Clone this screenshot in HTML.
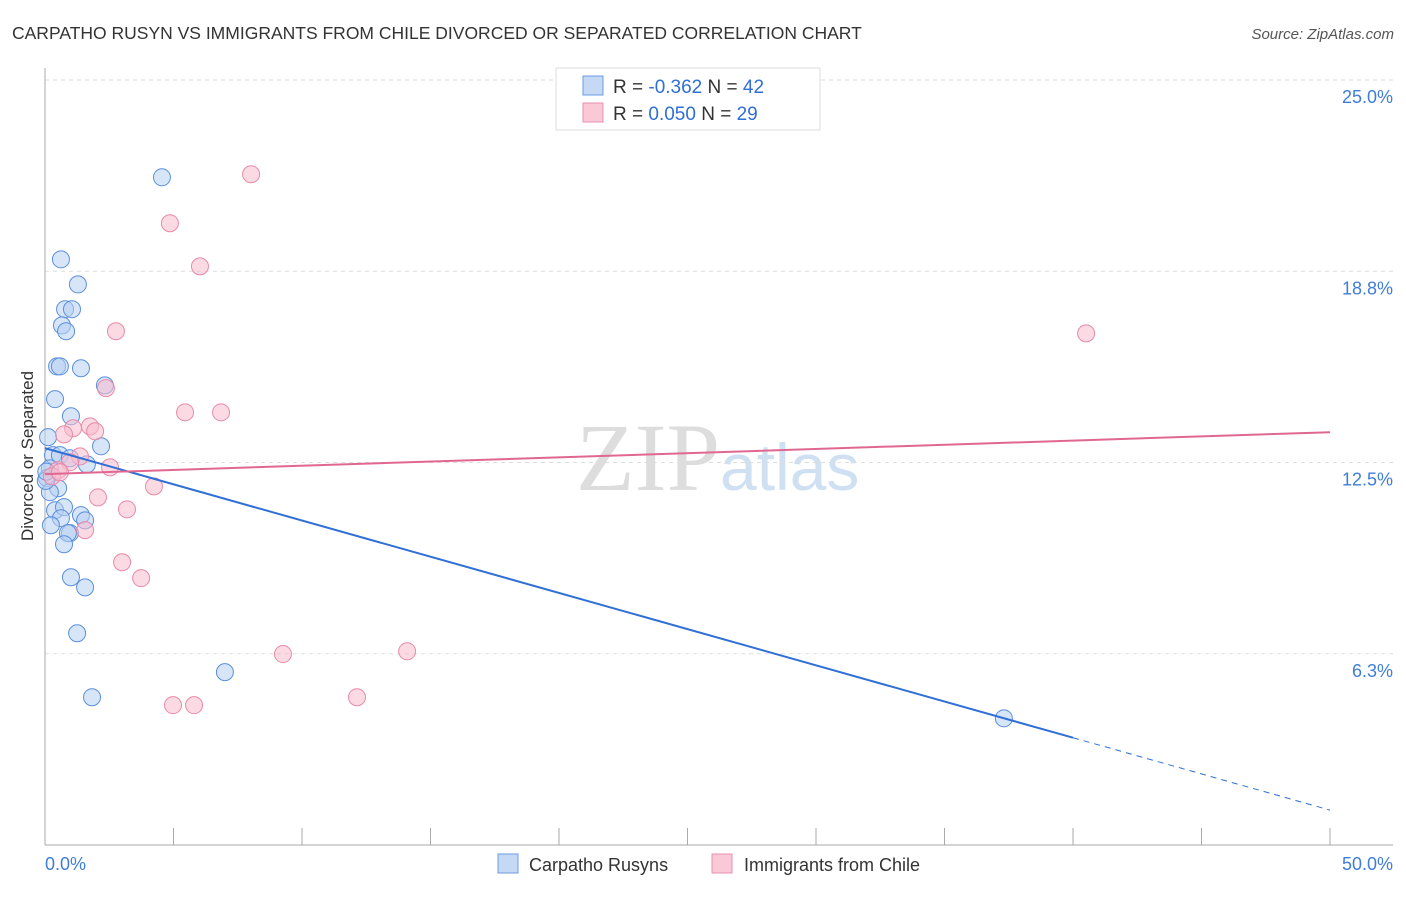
<!DOCTYPE html>
<html><head><meta charset="utf-8"><style>
body{margin:0;background:#fff;font-family:"Liberation Sans",sans-serif}
</style></head><body>
<svg id="chart" width="1406" height="892" xmlns="http://www.w3.org/2000/svg">
<text x="12" y="39" font-size="17.5" fill="#333">CARPATHO RUSYN VS IMMIGRANTS FROM CHILE DIVORCED OR SEPARATED CORRELATION CHART</text>
<text x="1394" y="39" font-size="15" fill="#555" font-style="italic" text-anchor="end">Source: ZipAtlas.com</text>
<text x="720" y="490" font-size="96" fill="#ddd" text-anchor="end" font-family="Liberation Serif">ZIP</text>
<text x="720" y="490" font-size="66" fill="#cfe0f3">atlas</text>
<text transform="translate(33,456) rotate(-90)" font-size="17" fill="#333" text-anchor="middle">Divorced or Separated</text>
<g id="grid"></g><g id="axes"></g><g id="marks"></g>
<g>
<rect x="556" y="68" width="264" height="62" fill="#fff" stroke="#ddd"/>
<rect x="583" y="76" width="20" height="19" fill="#c5d9f5" stroke="#6a9be0"/>
<rect x="583" y="103" width="20" height="19" fill="#f9c9d7" stroke="#e890ac"/>
<text x="613" y="93" font-size="19" fill="#333">R = <tspan fill="#2f6fd6">-0.362</tspan>   N = <tspan fill="#2f6fd6">42</tspan></text>
<text x="613" y="120" font-size="19" fill="#333">R =  <tspan fill="#2f6fd6">0.050</tspan>   N = <tspan fill="#2f6fd6">29</tspan></text>
</g>
<g>
<rect x="498" y="854" width="20" height="19" fill="#c5d9f5" stroke="#6a9be0"/>
<text x="529" y="871" font-size="18" fill="#333">Carpatho Rusyns</text>
<rect x="712" y="854" width="20" height="19" fill="#f9c9d7" stroke="#e890ac"/>
<text x="744" y="871" font-size="18" fill="#333">Immigrants from Chile</text>
</g>
</svg>
<script>
const yTicks=[6.25,12.5,18.75,25];
const yTickLabels=["6.3%","12.5%","18.8%","25.0%"];
const xTicks=[0,5,10,15,20,25,30,35,40,45,50];
const blueX=[4.55,0.62,1.28,0.78,1.05,0.66,0.82,0.47,0.58,1.40,2.33,0.39,1.01,0.12,2.18,0.31,0.58,0.97,1.63,0.19,0.08,0.51,0.19,0.39,0.74,0.62,1.40,1.56,0.23,0.97,0.89,0.74,1.01,1.56,1.25,7.00,1.83,37.31,0.03,0.05];
const blueY=[21.82,19.14,18.32,17.51,17.51,16.98,16.79,15.64,15.64,15.58,15.02,14.57,14.01,13.33,13.03,12.74,12.74,12.64,12.44,12.31,11.99,11.66,11.53,10.94,11.04,10.68,10.78,10.61,10.45,10.19,10.19,9.83,8.75,8.42,6.92,5.65,4.83,4.14,11.9,12.2];
const pinkX=[8.02,4.86,6.03,2.76,40.51,2.37,5.45,6.85,1.75,1.95,1.09,0.74,1.36,0.97,2.53,0.51,0.27,0.58,4.24,2.06,3.19,1.56,3.00,3.74,9.26,14.09,12.14,4.98,5.80];
const pinkY=[21.92,20.32,18.91,16.79,16.72,14.93,14.14,14.14,13.68,13.52,13.62,13.42,12.70,12.51,12.34,12.25,12.05,12.18,11.72,11.36,10.97,10.29,9.24,8.72,6.24,6.33,4.83,4.57,4.57];
const blueTrend=[12.97,1.14];
const pinkTrend=[12.12,13.49];
const blueSolidEnd=40;
const NS="http://www.w3.org/2000/svg";
const sx=v=>45+v/50*1285, sy=v=>845-v/25*765;
function mk(p,t,a){const e=document.createElementNS(NS,t);for(const k in a)e.setAttribute(k,a[k]);p.appendChild(e);return e;}
const grid=document.getElementById('grid'),axes=document.getElementById('axes'),marks=document.getElementById('marks');
yTicks.forEach((v,i)=>{
 const l=mk(grid,'line',{x1:45,x2:1393,y1:sy(v),y2:sy(v),stroke:'#ddd','stroke-dasharray':'4,4'});
 
 
 const t=mk(axes,'text',{x:1393,y:sy(v)+23,'font-size':18,fill:'#3f7dd9','text-anchor':'end'});
 t.textContent=yTickLabels[i];
 
 
});
const ya=mk(axes,'line',{x1:45,x2:45,y1:68,y2:845,stroke:'#aaa'});


const xa=mk(axes,'line',{x1:45,x2:1393,y1:845,y2:845,stroke:'#aaa'});


xTicks.forEach(v=>{
 const l=mk(axes,'line',{x1:sx(v),x2:sx(v),y1:828,y2:845,stroke:'#aaa'});
 
 
});
[[0,'0.0%','start',45],[50,'50.0%','end',1393]].forEach(d=>{
 const t=mk(axes,'text',{x:d[3],y:870,'font-size':18,fill:'#3f7dd9','text-anchor':d[2]});
 t.textContent=d[1];
 
 
});
function pts(X,Y,fill,stroke,name){X.forEach((x,i)=>{
 const c=mk(marks,'circle',{cx:sx(x),cy:sy(Y[i]),r:8.5,fill:fill,'fill-opacity':0.55,stroke:stroke,'stroke-width':1});
 
 
});}
pts(blueX,blueY,'#b7d0f3','#5b8fdc','carpatho-rusyn-point');
pts(pinkX,pinkY,'#f7bccd','#e88aa8','chile-immigrant-point');
const by=x=>blueTrend[0]+(blueTrend[1]-blueTrend[0])*x/50;
const b1=mk(marks,'line',{x1:sx(0),y1:sy(by(0)),x2:sx(blueSolidEnd),y2:sy(by(blueSolidEnd)),stroke:'#2f6fd6','stroke-width':2});


const b2=mk(marks,'line',{x1:sx(blueSolidEnd),y1:sy(by(blueSolidEnd)),x2:sx(50),y2:sy(by(50)),stroke:'#2f6fd6','stroke-width':1,'stroke-dasharray':'6,5'});


const p1=mk(marks,'line',{x1:sx(0),y1:sy(pinkTrend[0]),x2:sx(50),y2:sy(pinkTrend[1]),stroke:'#e06890','stroke-width':2});


</script>
</body></html>
